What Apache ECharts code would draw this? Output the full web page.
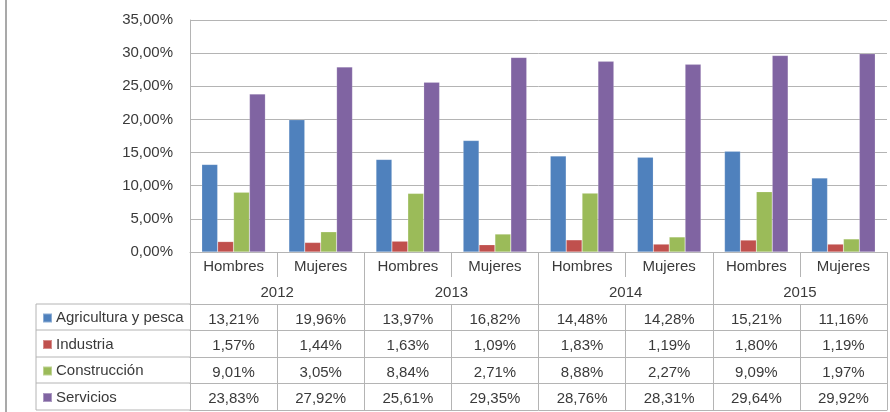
<!DOCTYPE html>
<html><head><meta charset="utf-8">
<script src="https://cdn.jsdelivr.net/npm/echarts@6/dist/echarts.min.js"></script>
<style>html,body{margin:0;padding:0;background:#fff}#c{width:890px;height:412px}</style>
</head><body><div id="c"></div>
<script>
const categories = ['Hombres','Mujeres','Hombres','Mujeres','Hombres','Mujeres','Hombres','Mujeres'];
const years = ['2012','2013','2014','2015'];
const seriesNames = ['Agricultura y pesca','Industria','Construcción','Servicios'];
const agricultura = [13.21,19.96,13.97,16.82,14.48,14.28,15.21,11.16];
const industria = [1.57,1.44,1.63,1.09,1.83,1.19,1.80,1.19];
const construccion = [9.01,3.05,8.84,2.71,8.88,2.27,9.09,1.97];
const servicios = [23.83,27.92,25.61,29.35,28.76,28.31,29.64,29.92];
const colors = ['#4F81BD','#C0504D','#9BBB59','#8064A2'];

const allSeries = [agricultura, industria, construccion, servicios];
const fmt = v => v.toFixed(2).replace('.', ',') + '%';
const FONT = 'Liberation Sans';
const TXT = '#3a3a3a';
const LINE = '#b4b4b4';

const gridLeft = 190, gridRight = 3, gridTop = 20, gridBottomY = 252;
const rowTops = [304, 330, 357, 383];
const tableBottom = 410;

const xAxes = [
  {
    type: 'category', data: categories, position: 'bottom',
    axisLine: { show: true, lineStyle: { color: LINE, width: 1 } },
    axisTick: { show: true, length: 25, lineStyle: { color: LINE } },
    axisLabel: { margin: 7, fontSize: 15, fontFamily: FONT, color: TXT }
  },
  {
    type: 'category', data: years, position: 'bottom', offset: 0,
    axisLine: { show: false },
    axisTick: { show: true, length: tableBottom - gridBottomY, lineStyle: { color: LINE } },
    axisLabel: { margin: 33, fontSize: 15, fontFamily: FONT, color: TXT }
  }
];
allSeries.forEach((arr, r) => {
  const nextTop = r < 3 ? rowTops[r + 1] : tableBottom;
  xAxes.push({
    type: 'category', data: arr.map(fmt), position: 'bottom', offset: rowTops[r] - gridBottomY,
    axisLine: { show: true, lineStyle: { color: LINE } },
    axisTick: { show: true, length: nextTop - rowTops[r], lineStyle: { color: LINE } },
    axisLabel: { margin: 8, fontSize: 15, fontFamily: FONT, color: TXT }
  });
});
xAxes.push({
  type: 'category', data: categories, position: 'bottom', offset: tableBottom - gridBottomY,
  axisLine: { show: true, lineStyle: { color: LINE } },
  axisTick: { show: false }, axisLabel: { show: false }
});

const legends = seriesNames.map((name, i) => {
  const center = (rowTops[i] + (i < 3 ? rowTops[i + 1] : tableBottom)) / 2;
  return {
    data: [name], left: 42, top: center - 6.5, padding: 0, orient: 'vertical',
    icon: 'rect', itemWidth: 9, itemHeight: 9, itemGap: 0, selectedMode: false,
    textStyle: { fontSize: 15, fontFamily: FONT, color: TXT, padding: [0, 0, 0, -1] }
  };
});

const leftLines = [];
rowTops.concat([tableBottom]).forEach(y => {
  leftLines.push({ type: 'line', shape: { x1: 36, y1: y, x2: gridLeft, y2: y }, style: { stroke: LINE, lineWidth: 1 } });
});
leftLines.push({ type: 'line', shape: { x1: 36, y1: rowTops[0], x2: 36, y2: tableBottom }, style: { stroke: LINE, lineWidth: 1 } });
leftLines.push({ type: 'line', shape: { x1: 6, y1: 0, x2: 6, y2: 412 }, style: { stroke: '#8c8c8c', lineWidth: 1.5 } });

const chart = echarts.init(document.getElementById('c'), null, { renderer: 'canvas' });
chart.setOption({
  animation: false,
  backgroundColor: '#fff',
  color: colors,
  grid: { left: gridLeft, right: gridRight, top: gridTop, bottom: 412 - gridBottomY, containLabel: false },
  legend: legends,
  xAxis: xAxes,
  yAxis: {
    type: 'value', min: 0, max: 35, interval: 5,
    axisLine: { show: true, lineStyle: { color: LINE } },
    axisTick: { show: false },
    splitLine: { show: true, lineStyle: { color: LINE, width: 1 } },
    axisLabel: { formatter: v => v.toFixed(2).replace('.', ',') + '%', fontSize: 15, fontFamily: FONT, color: TXT, margin: 17 }
  },
  graphic: leftLines,
  series: allSeries.map((arr, i) => ({
    name: seriesNames[i], type: 'bar', data: arr, xAxisIndex: 0,
    barGap: '0%', barCategoryGap: '27%',
    itemStyle: { color: colors[i], borderColor: 'rgba(255,255,255,0.35)', borderWidth: 0.5 }
  }))
});
</script></body></html>
